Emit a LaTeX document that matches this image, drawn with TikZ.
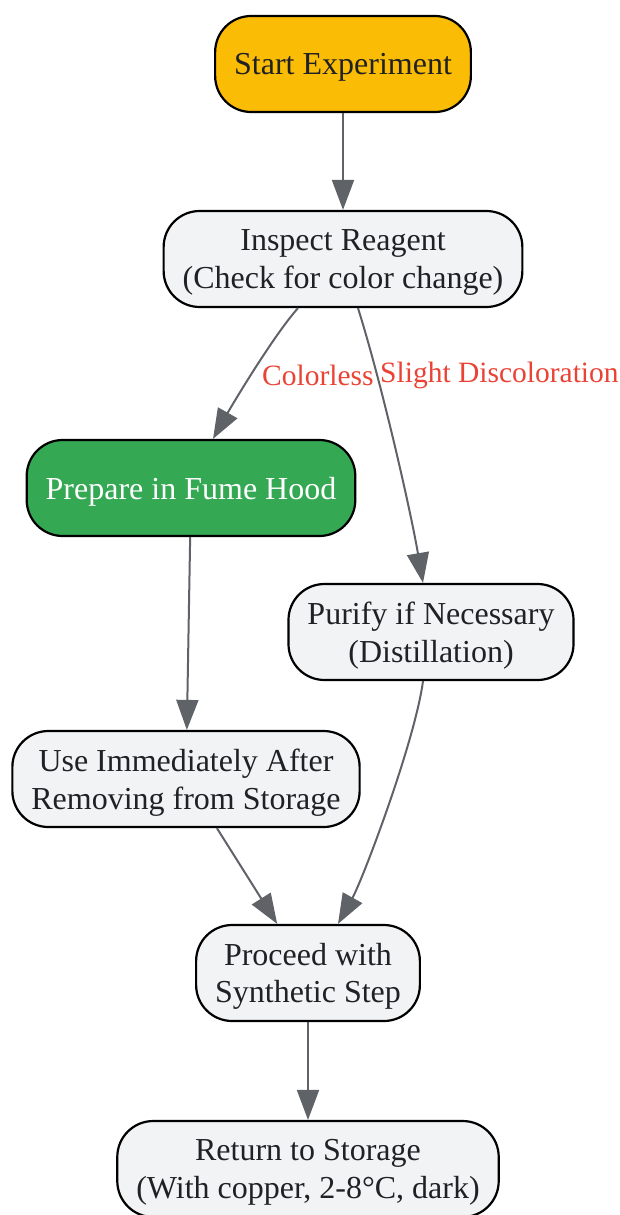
\documentclass[tikz,border=0pt]{standalone}
\usepackage{fontspec}
\setmainfont{Liberation Serif}
\usepackage{tikz}
\usetikzlibrary{arrows.meta}
\definecolor{start yellow}{HTML}{FBBC05}
\definecolor{hood green}{HTML}{34A853}
\definecolor{step gray}{HTML}{F1F3F4}
\definecolor{ink gray}{HTML}{202124}
\definecolor{edge gray}{HTML}{5F6368}
\definecolor{label red}{HTML}{EA4335}

\begin{document}
\begin{tikzpicture}[x=1pt, y=-1pt,
		box/.style = {draw=black, line width=2.2pt, rounded corners=36pt,
			minimum height=96pt, inner xsep=19pt, align=center, text depth=0pt,
			font=\fontsize{32}{37.5}\selectfont, text=ink gray},
		startbox/.style = {box, fill=start yellow},
		hoodbox/.style = {box, fill=hood green, text=white},
		stepbox/.style = {box, fill=step gray},
		flow/.style = {draw=edge gray, line width=2pt,
			-{Triangle[length=30pt, width=22pt]}},
		edgelabel/.style = {text=label red, inner sep=0pt,
			font=\fontsize{29.5}{34}\selectfont}]
			\useasboundingbox (0, 0) rectangle (620, 1215);
			% boxes
			\node[startbox] (start) at (343, 64) {Start Experiment};
			\node[stepbox] (inspect) at (343, 259) {Inspect Reagent\\(Check for color change)};
			\node[hoodbox] (prepare) at (191, 488) {Prepare in Fume Hood};
			\node[stepbox] (purify) at (431, 632) {Purify if Necessary\\(Distillation)};
			\node[stepbox] (use) at (186, 779) {Use Immediately After\\Removing from Storage};
			\node[stepbox] (proceed) at (308, 973) {Proceed with\\Synthetic Step};
			\node[stepbox] (return) at (308, 1169) {Return to Storage\\(With copper, 2-8°C, dark)};
			% labels
			\node[edgelabel, anchor=west] (colorless) at (262, 375) {Colorless};
			\node[edgelabel, anchor=west] (slight) at (380, 375) {Slight Discoloration};
			% arrows
			\draw[flow] (start) -- (inspect);
			\draw[flow] ([xshift=-45pt]inspect.south) .. controls +(-25, 28) and +(18, -32) .. ([xshift=22pt]prepare.north);
			\draw[flow] ([xshift=15pt]inspect.south) .. controls +(25, 80) and +(-12, -70) .. ([xshift=-8pt]purify.north);
			\draw[flow] (prepare) -- (use);
			\draw[flow] (use) -- (proceed);
			\draw[flow] ([xshift=-8pt]purify.south) .. controls +(-8, 60) and +(25, -45) .. ([xshift=30pt]proceed.north);
			\draw[flow] (proceed) -- (return);
		\end{tikzpicture}
\end{document}
